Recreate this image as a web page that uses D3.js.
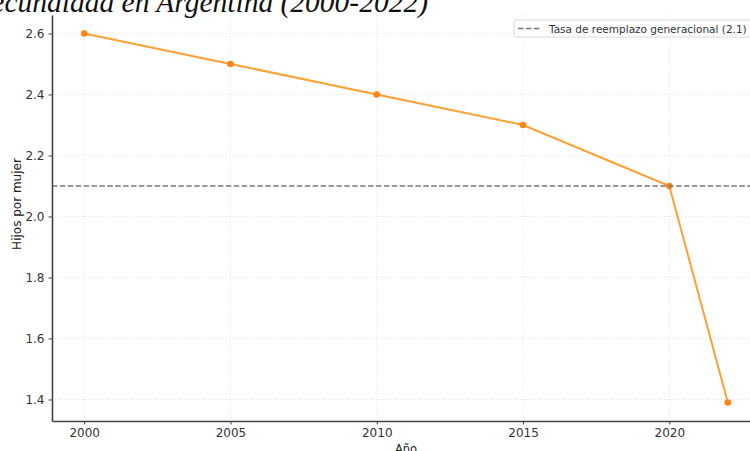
<!DOCTYPE html>
<html>
<head>
<meta charset="utf-8">
<script src="https://cdn.jsdelivr.net/npm/d3@7"></script>
<style>
  html, body { margin: 0; padding: 0; background: #fff; }
  svg { display: block; }
</style>
</head>
<body>
<svg id="chart"></svg>
<script>
// Tasa de fecundidad en Argentina (2000-2022)
const years = [2000, 2005, 2010, 2015, 2020, 2022];
const fertility = [2.6, 2.5, 2.4, 2.3, 2.1, 1.39];
const xTicks = [2000, 2005, 2010, 2015, 2020];
const yTicks = [1.4, 1.6, 1.8, 2.0, 2.2, 2.4, 2.6];
const replacementRate = 2.1;
const legendLabel = "Tasa de reemplazo generacional (2.1)";

const width = 750, height = 451;
const margin = { top: 15, right: -10, bottom: 30, left: 52 };

const svg = d3.select('#chart').attr('width', width).attr('height', height);

// matplotlib-style 5% padding on both axes
const xPad = (d3.max(years) - d3.min(years)) * 0.05;
const yPad = (d3.max(fertility) - d3.min(fertility)) * 0.05;

const x = d3.scaleLinear()
  .domain([d3.min(years) - xPad, d3.max(years) + xPad])
  .range([margin.left, width - margin.right]);
const y = d3.scaleLinear()
  .domain([d3.min(fertility) - yPad, d3.max(fertility) + yPad])
  .range([height - margin.bottom, margin.top]);

// grid
const grid = svg.append('g')
  .attr('stroke', '#dcdcdc')
  .attr('stroke-width', 0.8)
  .attr('stroke-dasharray', '1,2');
grid.selectAll('.vg').data(xTicks).join('line')
  .attr('x1', d => x(d)).attr('x2', d => x(d))
  .attr('y1', y.range()[1]).attr('y2', y.range()[0]);
grid.selectAll('.hg').data(yTicks).join('line')
  .attr('y1', d => y(d)).attr('y2', d => y(d))
  .attr('x1', x.range()[0]).attr('x2', x.range()[1]);

// data line
const line = d3.line().x((d, i) => x(years[i])).y(d => y(d));
svg.append('path')
  .datum(fertility)
  .attr('fill', 'none')
  .attr('stroke', '#ffa033')
  .attr('stroke-width', 2)
  .attr('d', line);
svg.append('g').selectAll('circle')
  .data(fertility)
  .join('circle')
  .attr('cx', (d, i) => x(years[i]))
  .attr('cy', d => y(d))
  .attr('r', 3.3)
  .attr('fill', '#ff8512');

// replacement line
svg.append('line')
  .attr('x1', x.range()[0]).attr('x2', x.range()[1])
  .attr('y1', y(replacementRate)).attr('y2', y(replacementRate))
  .attr('stroke', '#7a7a7a')
  .attr('stroke-width', 1.5)
  .attr('stroke-dasharray', '5.5,2.4');

// axes
const xAxis = svg.append('g')
  .attr('transform', `translate(0,${y.range()[0]})`)
  .call(d3.axisBottom(x).tickValues(xTicks).tickFormat(d3.format('d'))
    .tickSize(3.5).tickSizeOuter(0).tickPadding(4));
const yAxis = svg.append('g')
  .attr('transform', `translate(${x.range()[0]},0)`)
  .call(d3.axisLeft(y).tickValues(yTicks).tickFormat(d3.format('.1f'))
    .tickSize(3.5).tickSizeOuter(0).tickPadding(4));

[xAxis, yAxis].forEach(a => {
  a.select('.domain').attr('stroke', '#444').attr('stroke-width', 1.6);
  a.selectAll('.tick line').attr('stroke', '#444').attr('stroke-width', 1);
  a.selectAll('.tick text')
    .attr('fill', '#333')
    .style('font-family', 'DejaVu Sans, sans-serif')
    .style('font-size', '12px');
});

// axis titles
svg.append('text')
  .attr('x', (x.range()[0] + x.range()[1]) / 2)
  .attr('y', height + 2)
  .attr('text-anchor', 'middle')
  .attr('fill', '#222')
  .style('font-family', 'DejaVu Sans, sans-serif')
  .style('font-size', '11.5px')
  .text('Año');
svg.append('text')
  .attr('transform', 'translate(21,204) rotate(-90)')
  .attr('text-anchor', 'middle')
  .attr('fill', '#222')
  .style('font-family', 'DejaVu Sans, sans-serif')
  .style('font-size', '12px')
  .text('Hijos por mujer');

// legend
const lg = svg.append('g').attr('transform', 'translate(514,20)');
lg.append('rect')
  .attr('width', 260).attr('height', 17).attr('rx', 2)
  .attr('fill', 'rgba(255,255,255,0.85)')
  .attr('stroke', '#d0d0d0').attr('stroke-width', 0.8);
lg.append('line')
  .attr('x1', 4).attr('x2', 27).attr('y1', 8.5).attr('y2', 8.5)
  .attr('stroke', '#7a7a7a').attr('stroke-width', 1.5)
  .attr('stroke-dasharray', '5.5,2.4');
lg.append('text')
  .attr('x', 35).attr('y', 12.5)
  .attr('fill', '#333')
  .style('font-family', 'DejaVu Sans, sans-serif')
  .style('font-size', '10.5px')
  .text(legendLabel);

// title, cropped at the top-left in the reference
svg.append('text')
  .attr('x', 428).attr('y', 12)
  .attr('text-anchor', 'end')
  .attr('fill', '#111')
  .style('font-family', 'Liberation Serif, serif')
  .style('font-style', 'italic')
  .style('font-size', '29.5px')
  .text('Tasa de fecundidad en Argentina (2000-2022)');
</script>
</body>
</html>
